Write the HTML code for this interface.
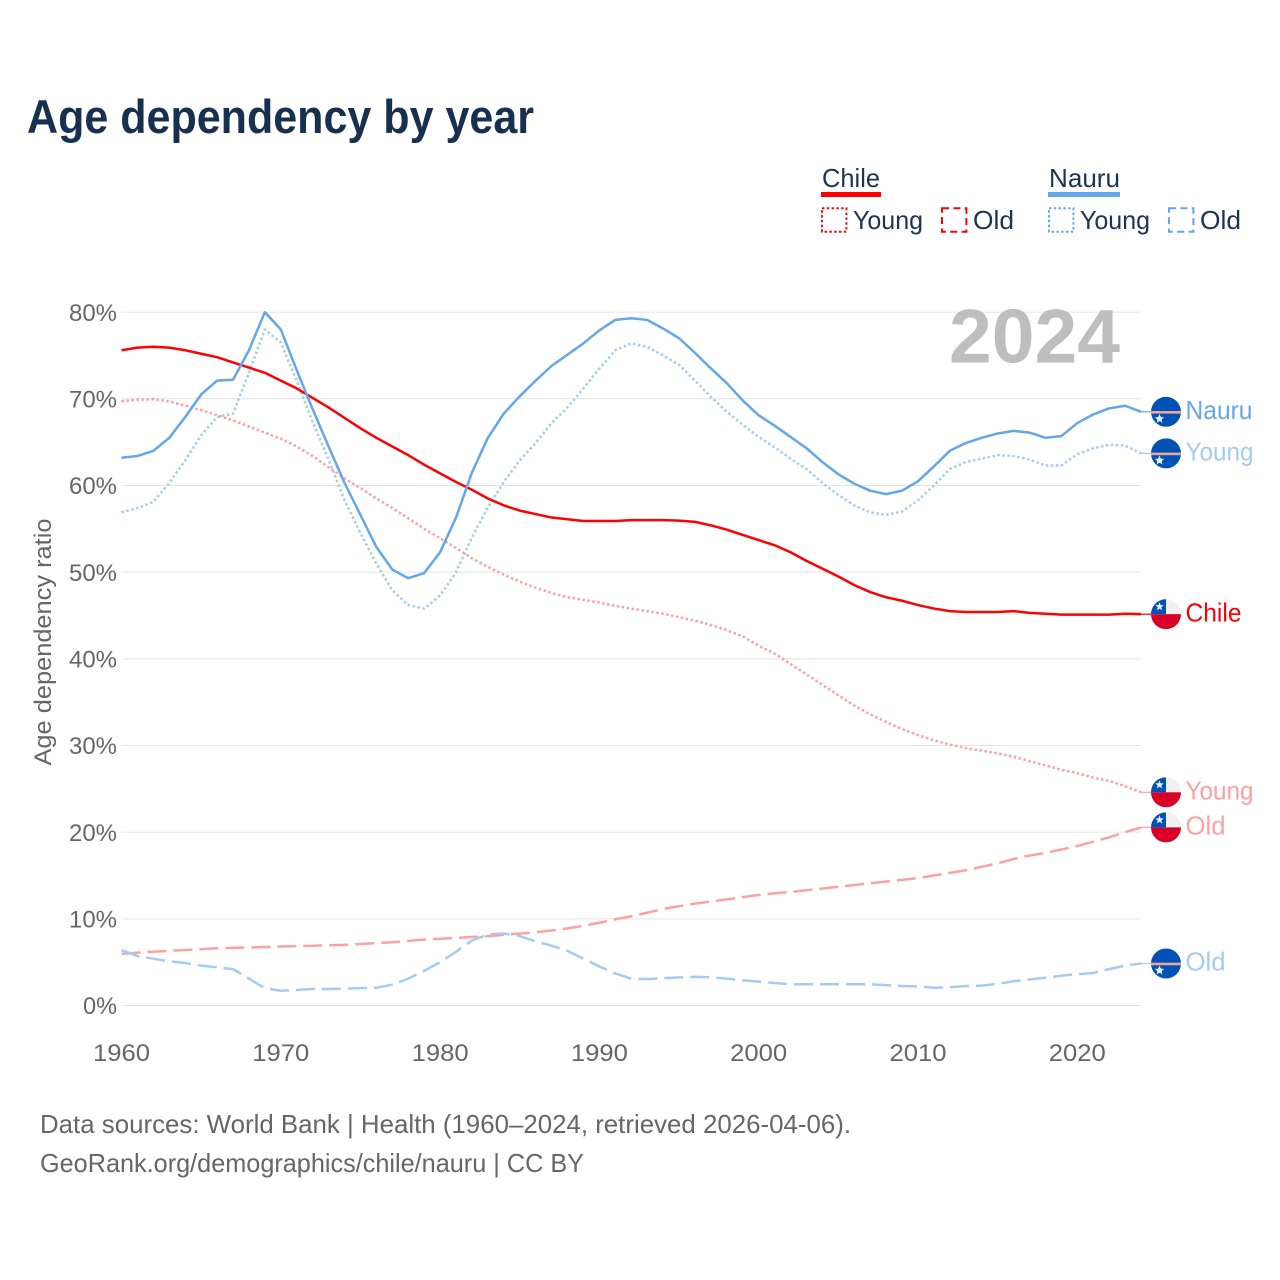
<!DOCTYPE html>
<html lang="en">
<head>
<meta charset="utf-8">
<title>Age dependency by year</title>
<style>
html,body{margin:0;padding:0;background:#fff;}
svg{display:block;font-family:"Liberation Sans",sans-serif;}
</style>
</head>
<body>
<svg id="chart" xmlns="http://www.w3.org/2000/svg" width="1280" height="1280" viewBox="0 0 1280 1280">
  <rect x="0" y="0" width="1280" height="1280" fill="#ffffff"/>
  <text x="27" y="133" font-size="47" font-weight="700" fill="#18304f" textLength="507" lengthAdjust="spacingAndGlyphs">Age dependency by year</text>

  <g font-size="26" fill="#1a3552">
    <text x="822" y="187" textLength="58" lengthAdjust="spacingAndGlyphs">Chile</text>
    <rect x="821" y="192" width="60" height="5" fill="#ff0000"/>
    <rect x="822" y="208.3" width="24.4" height="23.4" fill="none" stroke="#ff0000" stroke-width="2" stroke-dasharray="2.4 2.4"/>
    <text x="853" y="229" textLength="70" lengthAdjust="spacingAndGlyphs">Young</text>
    <rect x="942" y="208.3" width="24.4" height="23.4" fill="none" stroke="#ff0000" stroke-width="2" stroke-dasharray="7 4.4"/>
    <text x="973" y="229" textLength="41" lengthAdjust="spacingAndGlyphs">Old</text>

    <text x="1049" y="187" textLength="71" lengthAdjust="spacingAndGlyphs">Nauru</text>
    <rect x="1048" y="192" width="72" height="5" fill="#62a6ed"/>
    <rect x="1049" y="208.3" width="24.4" height="23.4" fill="none" stroke="#62a6ed" stroke-width="2" stroke-dasharray="2.4 2.4"/>
    <text x="1080" y="229" textLength="70" lengthAdjust="spacingAndGlyphs">Young</text>
    <rect x="1169" y="208.3" width="24.4" height="23.4" fill="none" stroke="#62a6ed" stroke-width="2" stroke-dasharray="7 4.4"/>
    <text x="1200" y="229" textLength="41" lengthAdjust="spacingAndGlyphs">Old</text>
  </g>

  <g id="grid"></g>
  <text x="1120" y="362.5" font-size="76" font-weight="700" fill="#bcbec0" text-anchor="end" textLength="171" lengthAdjust="spacingAndGlyphs">2024</text>
  <g id="yticks" font-size="24" fill="#666666"></g>
  <g id="xticks" font-size="24" fill="#666666"></g>
  <text transform="translate(51,642) rotate(-90)" font-size="24" fill="#666666" text-anchor="middle" textLength="247" lengthAdjust="spacingAndGlyphs">Age dependency ratio</text>
  <g id="series" fill="none" stroke-linejoin="round"></g>
  <g id="endlabels" font-size="26"></g>

  <g font-size="26" fill="#666666">
    <text x="40" y="1133" textLength="811" lengthAdjust="spacingAndGlyphs">Data sources: World Bank | Health (1960–2024, retrieved 2026-04-06).</text>
    <text x="40" y="1172" textLength="544" lengthAdjust="spacingAndGlyphs">GeoRank.org/demographics/chile/nauru | CC BY</text>
  </g>
</svg>
<script>
const years = [1960,1961,1962,1963,1964,1965,1966,1967,1968,1969,1970,1971,1972,1973,1974,1975,1976,1977,1978,1979,1980,1981,1982,1983,1984,1985,1986,1987,1988,1989,1990,1991,1992,1993,1994,1995,1996,1997,1998,1999,2000,2001,2002,2003,2004,2005,2006,2007,2008,2009,2010,2011,2012,2013,2014,2015,2016,2017,2018,2019,2020,2021,2022,2023,2024];
const chileTotal = [75.6,75.9,76,75.9,75.6,75.2,74.8,74.2,73.6,73,72.1,71.2,70.1,69,67.8,66.6,65.5,64.5,63.5,62.4,61.4,60.4,59.5,58.5,57.7,57.1,56.7,56.3,56.1,55.9,55.9,55.9,56,56,56,55.95,55.8,55.4,54.9,54.3,53.7,53.1,52.3,51.3,50.4,49.5,48.5,47.7,47.1,46.7,46.2,45.8,45.5,45.4,45.4,45.4,45.5,45.3,45.2,45.1,45.1,45.1,45.1,45.2,45.15];
const chileYoung = [69.7,69.9,69.95,69.7,69.2,68.7,68.1,67.5,66.8,66.1,65.4,64.5,63.4,62.1,60.8,59.7,58.5,57.4,56.2,55,53.9,52.8,51.6,50.6,49.7,48.9,48.2,47.6,47.1,46.8,46.5,46.1,45.8,45.5,45.2,44.8,44.4,43.9,43.3,42.6,41.5,40.6,39.4,38.2,37,35.8,34.6,33.6,32.7,31.9,31.2,30.6,30.1,29.7,29.4,29.1,28.7,28.2,27.7,27.2,26.8,26.3,25.9,25.3,24.6];
const chileOld = [5.95,6.1,6.2,6.3,6.4,6.5,6.6,6.65,6.7,6.75,6.8,6.85,6.9,6.95,7,7.1,7.2,7.3,7.45,7.6,7.7,7.8,7.9,8,8.15,8.3,8.45,8.65,8.9,9.2,9.55,9.95,10.3,10.7,11.15,11.45,11.75,12,12.25,12.5,12.75,12.95,13.1,13.3,13.5,13.7,13.9,14.1,14.3,14.5,14.7,15,15.3,15.6,16,16.4,16.9,17.3,17.6,18,18.4,18.9,19.4,20,20.55];
const nauruTotal = [63.2,63.4,64,65.5,67.9,70.5,72.1,72.2,75.6,80,78,73.3,68.8,64.5,60.3,56.6,52.9,50.3,49.3,49.9,52.3,56.3,61.5,65.5,68.3,70.3,72.1,73.8,75.1,76.4,77.9,79.1,79.3,79.1,78.1,77,75.3,73.5,71.8,69.8,68.1,66.9,65.6,64.3,62.7,61.3,60.2,59.4,59,59.4,60.5,62.2,64,64.9,65.5,66,66.3,66.1,65.5,65.7,67.2,68.2,68.9,69.2,68.5];
const nauruYoung = [56.9,57.4,58.1,60.3,62.9,65.8,67.9,68.3,73,78,76.5,72.1,67.3,63,58.3,54.5,51,47.9,46.2,45.8,47.3,50,54,57.5,60.4,62.9,64.9,67.2,69,71.2,73.5,75.6,76.4,76,75,73.9,72.1,70.2,68.5,67,65.6,64.4,63.1,61.9,60.3,58.9,57.7,56.9,56.6,57,58.3,60,61.9,62.7,63.1,63.5,63.4,63,62.3,62.3,63.6,64.3,64.7,64.6,63.7];
const nauruOld = [6.4,5.7,5.4,5.1,4.9,4.6,4.4,4.2,3.1,2,1.7,1.8,1.9,1.9,1.95,2,2.05,2.4,3.1,4,5,6.2,7.5,8.2,8.3,8,7.4,6.9,6.3,5.4,4.5,3.7,3.1,3.05,3.15,3.25,3.3,3.25,3.1,2.9,2.75,2.6,2.45,2.45,2.45,2.45,2.45,2.45,2.35,2.25,2.2,2.05,2.1,2.25,2.3,2.5,2.8,3,3.2,3.45,3.6,3.75,4.2,4.6,4.85];
const yTickValues = [0,10,20,30,40,50,60,70,80];
const xTickValues = [1960,1970,1980,1990,2000,2010,2020];

const SVGNS = 'http://www.w3.org/2000/svg';
function xScale(year){ return 121.5 + (year - 1960) * 15.93; }
function yScale(pct){ return 1005.5 - pct * 8.667; }
function make(tag, attrs, parent){
  const el = document.createElementNS(SVGNS, tag);
  for (const k in attrs) el.setAttribute(k, attrs[k]);
  parent.appendChild(el);
  return el;
}
function starPoints(cx, cy, r){
  const pts = [];
  for (let i = 0; i < 10; i++){
    const rad = i % 2 ? r * 0.42 : r;
    const a = -Math.PI / 2 + i * Math.PI / 5;
    pts.push((cx + rad * Math.cos(a)).toFixed(2) + ',' + (cy + rad * Math.sin(a)).toFixed(2));
  }
  return pts.join(' ');
}

const gridG = document.getElementById('grid');
const yTickG = document.getElementById('yticks');
yTickValues.forEach(function(v){
  const line = make('line', {x1:121.5, x2:1141, y1:yScale(v), y2:yScale(v), stroke:'#e4e4e4', 'stroke-width':1}, gridG);
  
  
  const label = make('text', {x:117, y:yScale(v) + 8.7, 'text-anchor':'end', textLength: v === 0 ? 34 : 48, lengthAdjust:'spacingAndGlyphs'}, yTickG);
  
  
  label.textContent = v + '%';
});

const xTickG = document.getElementById('xticks');
xTickValues.forEach(function(v){
  const label = make('text', {x:xScale(v), y:1061, 'text-anchor':'middle', textLength:57, lengthAdjust:'spacingAndGlyphs'}, xTickG);
  
  
  label.textContent = v;
});

function linePath(values){
  return values.map(function(v, i){
    return (i ? 'L' : 'M') + xScale(years[i]).toFixed(2) + ' ' + yScale(v).toFixed(2);
  }).join(' ');
}
function drawSeries(values, color, width, dash, parent){
  const p = make('path', {d:linePath(values), stroke:color, 'stroke-width':width}, parent);
  if (dash) p.setAttribute('stroke-dasharray', dash);
  return p;
}
const seriesG = document.getElementById('series');
const DOT = '2.5 2.5', DASH = '19 7';

const sChileOld = drawSeries(chileOld, '#ffa0a0', 2.5, DASH, seriesG);


const sNauruOld = drawSeries(nauruOld, '#a5cbf2', 2.5, DASH, seriesG);


const sChileYoung = drawSeries(chileYoung, '#ffa0a0', 2.5, DOT, seriesG);


const sNauruYoung = drawSeries(nauruYoung, '#a5cbf2', 2.5, DOT, seriesG);


const sChile = drawSeries(chileTotal, '#ff0000', 2.5, null, seriesG);


const sNauru = drawSeries(nauruTotal, '#62a6ed', 2.5, null, seriesG);



const labelG = document.getElementById('endlabels');
const defs = make('defs', {}, labelG);
const clip = make('clipPath', {id:'flag-clip'}, defs);
make('circle', {cx:0, cy:0, r:15}, clip);

function drawFlag(kind, cy){
  const g = make('g', {transform:'translate(1166,' + cy.toFixed(2) + ')', 'clip-path':'url(#flag-clip)'}, labelG);
  if (kind === 'chile'){
    make('rect', {x:-15, y:-15, width:30, height:15, fill:'#f0f0f0'}, g);
    make('rect', {x:-15, y:-15, width:15, height:15, fill:'#0052b4'}, g);
    make('rect', {x:-15, y:0, width:30, height:15, fill:'#d80027'}, g);
    make('polygon', {points:starPoints(-6.5, -7.5, 4.5), fill:'#f0f0f0'}, g);
  } else {
    make('rect', {x:-15, y:-15, width:30, height:30, fill:'#0052b4'}, g);
    make('rect', {x:-15, y:-0.8, width:30, height:2.6, fill:'#f4a39b'}, g);
    make('polygon', {points:starPoints(-6.5, 7, 5), fill:'#e8eef6'}, g);
    make('circle', {cx:-6.5, cy:7, r:2.6, fill:'#e8eef6'}, g);
  }
  return g;
}
function drawLeader(value, color){
  return make('line', {x1:xScale(2024), x2:1151, y1:yScale(value), y2:yScale(value), stroke:color, 'stroke-width':1.2}, labelG);
}
function drawLabel(text, value, color){
  const widths = {Nauru:67, Young:68, Chile:56, Old:40};
  const el = make('text', {x:1185.5, y:yScale(value) + 7.2, fill:color, textLength:widths[text], lengthAdjust:'spacingAndGlyphs'}, labelG);
  el.textContent = text;
  return el;
}

const last = years.length - 1;

const l1 = drawLeader(nauruTotal[last], '#62a6ed');


const f1 = drawFlag('nauru', yScale(nauruTotal[last]));


const t1 = drawLabel('Nauru', nauruTotal[last], '#62a6ed');



const l2 = drawLeader(nauruYoung[last], '#a5cbf2');


const f2 = drawFlag('nauru', yScale(nauruYoung[last]));


const t2 = drawLabel('Young', nauruYoung[last], '#a5cbf2');



const l3 = drawLeader(chileTotal[last], '#ff0000');


const f3 = drawFlag('chile', yScale(chileTotal[last]));


const t3 = drawLabel('Chile', chileTotal[last], '#ff0000');



const l4 = drawLeader(chileYoung[last], '#ffa0a0');


const f4 = drawFlag('chile', yScale(chileYoung[last]));


const t4 = drawLabel('Young', chileYoung[last], '#ffa0a0');



const l5 = drawLeader(chileOld[last], '#ffa0a0');


const f5 = drawFlag('chile', yScale(chileOld[last]));


const t5 = drawLabel('Old', chileOld[last], '#ffa0a0');



const l6 = drawLeader(nauruOld[last], '#a5cbf2');


const f6 = drawFlag('nauru', yScale(nauruOld[last]));


const t6 = drawLabel('Old', nauruOld[last], '#a5cbf2');


</script>
</body>
</html>
